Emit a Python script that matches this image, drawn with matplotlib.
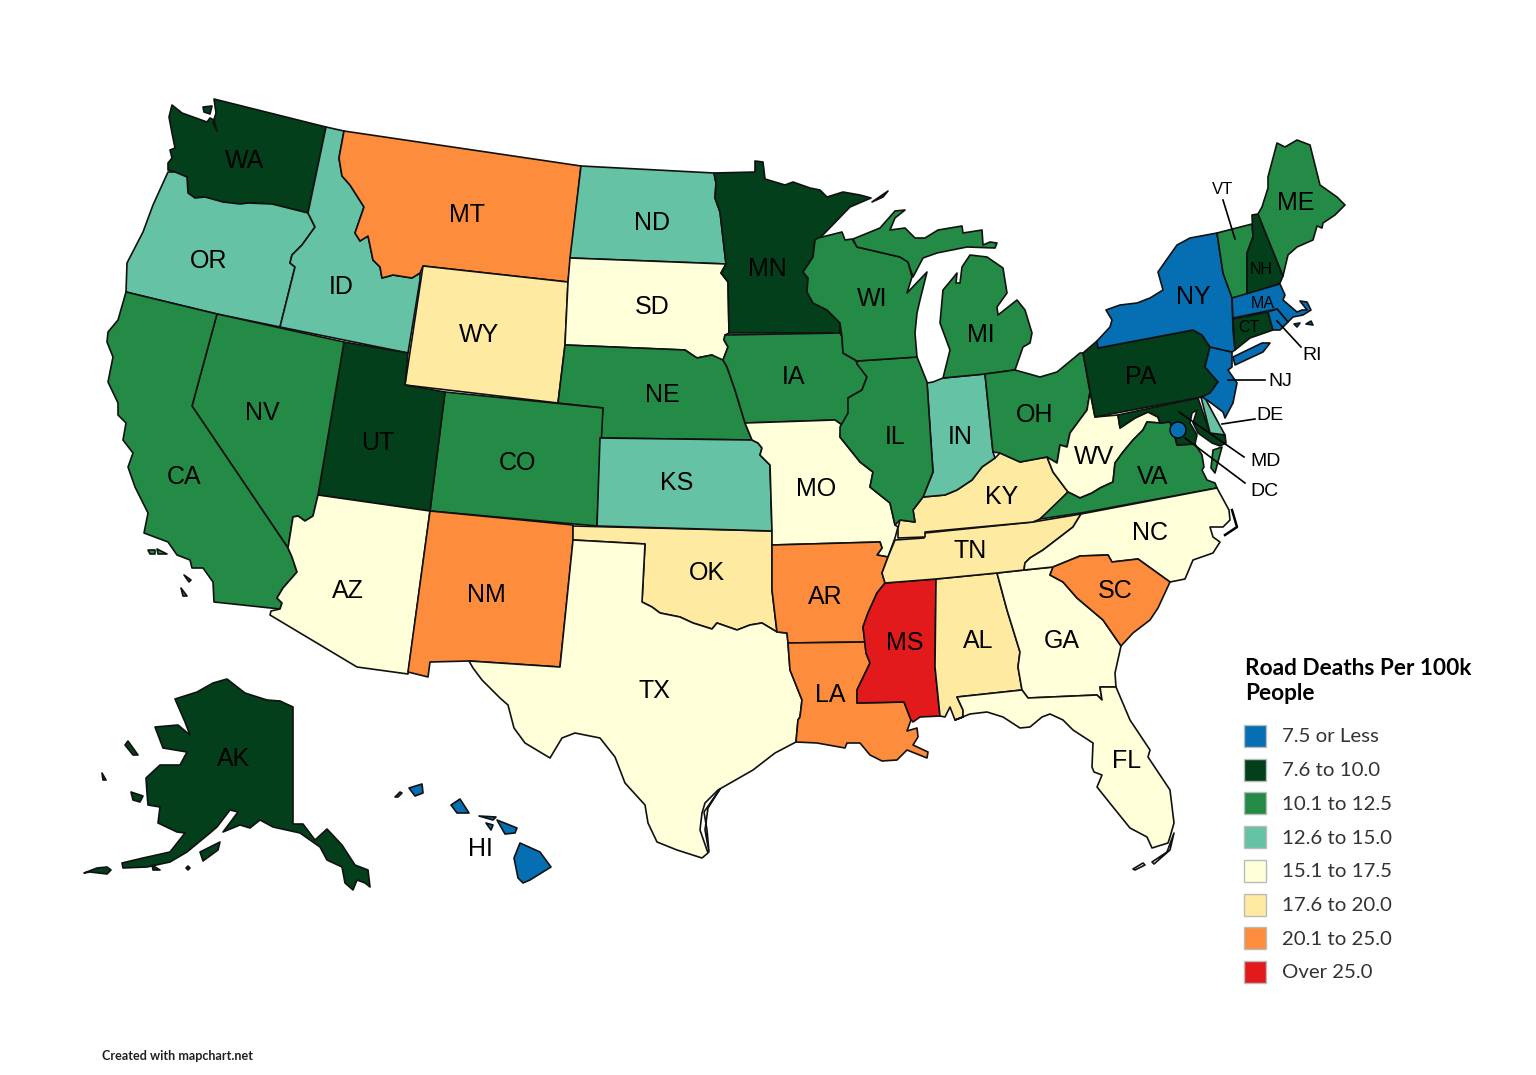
import matplotlib
matplotlib.use("Agg")
import matplotlib.pyplot as plt
from matplotlib.patches import Polygon, Rectangle, Circle

# legend classes
legend_title = "Road Deaths Per 100k\nPeople"
legend_labels = ["7.5 or Less", "7.6 to 10.0", "10.1 to 12.5", "12.6 to 15.0",
                 "15.1 to 17.5", "17.6 to 20.0", "20.1 to 25.0", "Over 25.0"]
colors = ["#066fb3", "#023f1a", "#238b45", "#66c2a4",
          "#ffffd9", "#feeaa0", "#fd8d3c", "#e31a1c"]

# class index per state
state_class = {
    "AK": 1, "AL": 5, "AR": 6, "AZ": 4, "CA": 2, "CO": 2, "CT": 1, "DE": 3, "FL": 4, "GA": 4,
    "HI": 0, "IA": 2, "ID": 3, "IL": 2, "IN": 3, "KS": 3, "KY": 5, "LA": 6, "MA": 0, "MD": 1,
    "ME": 2, "MI": 2, "MN": 1, "MO": 4, "MS": 7, "MT": 6, "NC": 4, "ND": 3, "NE": 2, "NH": 1,
    "NJ": 0, "NM": 6, "NV": 2, "NY": 0, "OH": 2, "OK": 5, "OR": 3, "PA": 1, "RI": 0, "SC": 6,
    "SD": 4, "TN": 5, "TX": 4, "UT": 1, "VA": 2, "VT": 2, "WA": 1, "WI": 2, "WV": 4, "WY": 5,
}
dc_class = 0

# outlines, in image pixels
outlines = {
    "WA": [[(169,117),(172,105),(182,113),(207,122),(210,118),(214,120),(217,131),(213,123),(216,113),(214,99),(326,127),(308,213),(272,204),(248,203),(240,204),(223,202),(205,197),(195,198),(188,193),(187,177),(175,172),(168,170),(168,163),(172,158),(170,150),(175,148),(172,133)],
           [(203,107),(212,106),(210,114),(204,112)]],
    "OR": [[(127,263),(143,232),(153,205),(168,172),(175,172),(187,177),(188,193),(195,198),(205,197),(223,202),(240,204),(248,203),(272,204),(308,213),(315,227),(302,245),(292,255),(290,263),(295,267),(280,327),(217,314),(126,292)]],
    "ID": [[(326,127),(344,131),(339,158),(342,176),(350,185),(364,207),(355,233),(360,241),(368,236),(373,260),(380,267),(382,278),(393,275),(412,278),(420,273),(420,280),(408,353),(280,327),(295,267),(290,263),(292,255),(302,245),(315,227),(308,213)]],
    "MT": [[(344,131),(581,166),(568,282),(423,266),(420,273),(412,278),(393,275),(382,278),(380,267),(373,260),(368,236),(360,241),(355,233),(364,207),(350,185),(342,176),(339,158)]],
    "WY": [[(423,266),(568,282),(565,345),(558,403),(405,385)]],
    "ND": [[(581,166),(714,173),(716,183),(715,198),(720,212),(726,264),(570,258)]],
    "SD": [[(570,258),(726,264),(721,273),(728,282),(729,333),(725,335),(724,340),(728,347),(723,360),(727,367),(712,355),(697,358),(685,350),(565,345),(568,282)]],
    "NE": [[(565,345),(685,350),(697,358),(712,355),(723,360),(727,367),(735,390),(745,423),(752,440),(600,438),(603,408),(558,403)]],
    "CO": [[(445,392),(603,408),(597,526),(430,511)]],
    "UT": [[(344,342),(408,353),(405,385),(445,392),(430,511),(318,495)]],
    "NV": [[(217,314),(344,342),(318,495),(313,516),(305,521),(298,516),(293,517),(288,548),(192,406)]],
    "CA": [[(126,292),(217,314),(192,406),(288,548),(292,557),(297,572),(283,588),(277,598),(282,603),(280,609),(214,602),(213,582),(203,568),(192,568),(190,560),(177,555),(168,542),(144,533),(148,513),(135,487),(128,467),(133,453),(123,440),(126,423),(118,415),(118,403),(108,382),(113,357),(107,342),(108,332),(118,320)],
           [(148,550),(155,550),(155,554),(150,554)], [(157,549),(167,554),(158,554)], [(184,575),(191,580),(189,582)], [(181,588),(187,596),(183,596)]],
    "AZ": [[(293,517),(298,516),(305,521),(313,516),(318,495),(430,511),(408,674),(357,667),(270,615),(271,611),(280,609),(282,603),(277,598),(283,588),(297,572),(292,557),(288,548)]],
    "NM": [[(430,511),(573,525),(573,541),(560,667),(469,661),(430,662),(428,677),(408,672)]],
    "OK": [[(573,526),(772,531),(772,590),(777,632),(762,623),(750,625),(737,630),(717,623),(712,629),(693,623),(680,617),(660,613),(652,607),(642,602),(645,544),(573,540)]],
    "KS": [[(600,438),(752,440),(758,443),(762,448),(760,455),(770,465),(772,531),(597,526)]],
    "TX": [[(573,540),(645,544),(642,602),(652,607),(660,613),(680,617),(693,623),(712,629),(717,623),(737,630),(750,625),(762,623),(777,632),(787,633),(788,643),(790,670),(802,700),(800,717),(798,720),(796,742),(775,753),(753,770),(718,790),(705,803),(702,813),(700,830),(708,853),(702,858),(677,850),(657,842),(648,823),(645,805),(625,783),(615,757),(600,738),(575,733),(562,738),(550,758),(525,743),(514,728),(508,705),(500,698),(482,680),(473,668),(469,661),(560,667)],
           [(720,789),(708,808),(705,830),(709,852),(707,830),(704,812)]],
    "MN": [[(714,173),(755,172),(755,161),(763,162),(765,179),(775,182),(785,185),(793,182),(810,188),(820,190),(827,197),(843,192),(860,195),(871,198),(850,207),(820,238),(815,240),(813,257),(803,272),(808,278),(807,292),(813,303),(827,310),(840,323),(840,333),(729,333),(728,282),(721,273),(726,264),(720,212),(715,198),(716,183)],
           [(872,202),(888,191),(883,197)]],
    "IA": [[(725,335),(840,333),(842,337),(843,353),(855,360),(867,377),(862,390),(848,398),(850,410),(842,425),(835,420),(745,423),(735,390),(727,367),(723,360),(728,347),(724,340)]],
    "MO": [[(745,423),(835,420),(842,425),(840,437),(860,462),(873,472),(870,487),(890,503),(895,525),(898,527),(895,538),(888,557),(877,555),(882,548),(880,542),(772,545),(772,531),(770,465),(760,455),(762,448),(758,443),(752,440)]],
    "AR": [[(772,545),(880,542),(882,548),(877,555),(888,557),(882,573),(885,583),(877,593),(868,613),(863,627),(865,642),(788,643),(787,633),(777,632),(772,590)]],
    "LA": [[(788,643),(865,642),(866,653),(870,663),(857,690),(857,703),(904,702),(911,720),(907,731),(917,728),(918,737),(913,745),(928,752),(927,758),(907,750),(897,760),(882,761),(870,755),(860,743),(847,743),(845,748),(817,743),(796,742),(798,720),(800,717),(802,700),(790,670)]],
    "MS": [[(885,583),(936,579),(935,667),(940,716),(920,717),(913,722),(911,720),(904,702),(857,703),(857,690),(870,663),(866,653),(863,627),(868,613),(877,593)]],
    "AL": [[(936,579),(997,573),(1007,610),(1020,652),(1018,667),(1022,690),(957,697),(963,710),(963,717),(955,720),(950,707),(945,717),(940,716),(935,667)]],
    "GA": [[(997,573),(1053,567),(1050,575),(1063,582),(1077,598),(1103,620),(1121,646),(1115,673),(1116,687),(1100,687),(1102,700),(1097,695),(1028,698),(1022,690),(1018,667),(1020,652),(1007,610)]],
    "FL": [[(957,697),(1022,690),(1028,698),(1097,695),(1102,700),(1100,687),(1116,687),(1130,720),(1150,750),(1148,757),(1170,790),(1174,823),(1170,837),(1168,843),(1152,848),(1147,837),(1130,828),(1113,807),(1097,787),(1102,775),(1094,772),(1092,767),(1093,743),(1073,730),(1063,720),(1050,714),(1042,717),(1030,727),(1020,728),(1003,717),(987,712),(970,714),(955,720),(963,717),(963,710)],
           [(1133,869),(1143,863),(1145,865),(1135,870)], [(1152,862),(1167,852),(1174,833),(1170,850),(1154,864)]],
    "TN": [[(895,540),(924,538),(925,533),(1033,522),(1081,514),(1073,527),(1060,537),(1043,550),(1030,558),(1025,563),(1024,570),(997,573),(936,579),(885,583),(882,573),(888,557)]],
    "KY": [[(898,538),(925,537),(925,532),(1033,522),(1040,519),(1053,508),(1068,492),(1053,472),(1047,457),(1020,462),(1000,453),(995,458),(982,467),(972,480),(957,490),(945,495),(923,497),(913,510),(915,522),(900,520),(898,528)]],
    "IN": [[(927,383),(933,382),(943,378),(985,374),(993,452),(995,458),(982,467),(972,480),(957,490),(945,495),(923,497),(933,472),(931,443)]],
    "IL": [[(857,361),(917,357),(927,382),(931,443),(933,472),(923,497),(913,510),(915,522),(900,520),(895,525),(890,503),(870,487),(873,472),(860,462),(840,437),(840,427),(848,413),(848,398),(862,390),(867,377),(857,364)]],
    "WI": [[(818,238),(842,232),(845,240),(852,239),(857,247),(900,257),(908,262),(912,277),(907,293),(927,272),(920,300),(917,313),(915,333),(917,357),(857,361),(843,353),(842,337),(840,323),(827,310),(813,303),(807,292),(808,278),(803,272),(813,257),(815,240)]],
    "MI": [[(853,239),(880,228),(895,211),(905,210),(895,218),(890,230),(905,228),(915,238),(925,238),(938,230),(962,226),(963,233),(982,230),(983,245),(990,242),(997,243),(995,248),(967,247),(937,253),(923,258),(913,277),(908,262),(900,257),(857,247)],
           [(943,378),(950,350),(940,323),(943,290),(953,278),(957,273),(956,283),(960,283),(962,267),(970,255),(987,257),(1003,268),(1007,293),(997,307),(998,315),(1017,300),(1025,310),(1032,333),(1030,343),(1023,347),(1015,370),(985,374)]],
    "OH": [[(985,374),(1015,370),(1040,377),(1057,372),(1080,353),(1083,353),(1090,392),(1087,410),(1070,433),(1067,447),(1060,445),(1057,463),(1047,457),(1020,462),(1000,453),(993,452)]],
    "WV": [[(1090,392),(1095,417),(1118,415),(1120,428),(1135,418),(1148,412),(1158,417),(1160,423),(1147,422),(1143,430),(1133,440),(1123,452),(1115,463),(1113,482),(1100,488),(1092,493),(1080,498),(1068,492),(1053,472),(1047,457),(1057,463),(1060,445),(1067,447),(1070,433),(1087,410)]],
    "PA": [[(1083,353),(1097,341),(1098,348),(1193,330),(1202,335),(1210,347),(1205,367),(1218,382),(1210,393),(1202,397),(1095,417)]],
    "VA": [[(1040,519),(1068,492),(1080,498),(1092,493),(1100,488),(1113,482),(1115,463),(1123,452),(1133,440),(1143,430),(1147,422),(1160,423),(1170,422),(1175,437),(1177,445),(1195,444),(1202,455),(1204,467),(1202,470),(1207,480),(1215,483),(1217,488),(1081,513)],
           [(1222,447),(1215,473),(1211,468),(1213,450)]],
    "MD": [[(1118,415),(1198,398),(1210,433),(1225,435),(1226,443),(1220,446),(1212,443),(1198,433),(1193,423),(1197,410),(1192,413),(1190,423),(1197,435),(1195,444),(1177,445),(1175,437),(1170,422),(1160,423),(1158,417),(1148,412),(1135,418),(1120,428)]],
    "DE": [[(1201,397),(1204,396),(1213,413),(1225,435),(1210,433)]],
    "NJ": [[(1210,347),(1232,352),(1232,367),(1228,370),(1237,383),(1233,403),(1225,418),(1223,412),(1207,400),(1202,397),(1210,393),(1218,382),(1205,367)]],
    "NY": [[(1098,348),(1097,341),(1110,327),(1112,320),(1106,310),(1120,305),(1137,303),(1150,298),(1163,290),(1158,272),(1165,262),(1177,245),(1190,238),(1217,233),(1223,273),(1232,297),(1233,330),(1235,350),(1232,352),(1210,347),(1202,335),(1193,330)],
           [(1233,357),(1262,343),(1270,343),(1263,352),(1235,365)]],
    "VT": [[(1217,233),(1252,224),(1253,237),(1247,253),(1247,295),(1232,298),(1223,273)]],
    "NH": [[(1252,215),(1258,214),(1283,276),(1280,283),(1247,295),(1247,253),(1253,237)]],
    "ME": [[(1258,214),(1262,207),(1268,188),(1268,177),(1277,143),(1285,147),(1297,140),(1310,145),(1320,185),(1337,197),(1345,205),(1335,215),(1323,223),(1322,228),(1317,226),(1313,240),(1297,247),(1288,255),(1283,276)]],
    "MA": [[(1232,298),(1280,284),(1285,295),(1283,300),(1297,312),(1302,310),(1307,310),(1300,301),(1307,302),(1311,310),(1303,315),(1293,317),(1288,322),(1277,309),(1233,318)],
           [(1294,324),(1300,323),(1297,327)], [(1306,324),(1311,321),(1313,325)]],
    "CT": [[(1233,319),(1268,312),(1273,330),(1250,338),(1235,350)]],
    "RI": [[(1268,312),(1277,309),(1288,322),(1280,330),(1273,330)]],
    "AK": [[(175,699),(197,692),(213,683),(227,679),(245,693),(267,700),(280,701),(293,707),(293,824),(303,824),(315,840),(327,829),(342,845),(355,865),(368,870),(370,887),(365,883),(357,880),(353,890),(345,883),(342,867),(327,860),(320,847),(300,833),(273,827),(260,820),(250,828),(240,825),(223,832),(238,812),(230,810),(217,827),(210,833),(187,852),(170,862),(147,867),(123,868),(122,863),(143,858),(170,852),(185,833),(177,832),(158,823),(160,807),(148,805),(147,793),(146,778),(160,765),(180,765),(187,752),(163,748),(155,727),(178,725),(190,735),(185,722)],
           [(125,745),(128,741),(138,755),(133,755)], [(102,773),(106,780),(103,780)], [(131,792),(143,796),(140,802),(133,800)],
           [(84,873),(97,868),(107,867),(111,870),(107,874),(90,872)], [(200,852),(220,842),(218,850),(203,861)],
           [(152,865),(160,870),(153,870)], [(188,866),(190,868),(188,870),(186,868)]],
    "HI": [[(520,843),(540,852),(551,867),(530,880),(523,883),(518,878),(514,858)], [(497,820),(517,828),(515,833),(505,834)],
           [(486,823),(493,825),(491,830)], [(479,816),(496,817),(493,820)], [(451,805),(460,799),(469,813),(457,813)],
           [(409,788),(422,784),(423,793),(415,796)], [(395,797),(400,792),(402,793),(398,797)]],
    "NC": [[(1024,570),(1025,563),(1030,558),(1043,550),(1060,537),(1073,527),(1081,514),(1217,488),(1229,510),(1230,520),(1223,527),(1210,527),(1213,537),(1220,542),(1213,553),(1193,560),(1185,579),(1170,582),(1138,559),(1112,562),(1108,555),(1080,556),(1053,567)]],
    "SC": [[(1053,567),(1080,556),(1108,555),(1112,562),(1138,559),(1170,582),(1158,608),(1150,620),(1133,633),(1121,646),(1103,620),(1077,598),(1063,582),(1050,575)]],
}
outer_banks_x = [1232, 1237, 1225]
outer_banks_y = [510, 527, 535]

# state code labels with their pixel positions
map_labels = {
    "WA": (245,159), "OR": (209,259), "CA": (184,475), "NV": (262,412), "ID": (341,285), "MT": (467,214),
    "WY": (479,333), "UT": (378,442), "AZ": (348,589), "CO": (517,461), "NM": (486,594), "ND": (652,221),
    "SD": (652,305), "NE": (662,393), "KS": (677,481), "OK": (707,572), "TX": (654,690), "MN": (767,267),
    "IA": (793,376), "MO": (816,487), "AR": (825,595), "LA": (830,694), "WI": (872,298), "IL": (895,436),
    "MS": (905,642), "MI": (981,333), "IN": (960,435), "KY": (1002,496), "TN": (970,550), "AL": (978,639),
    "OH": (1035,413), "GA": (1062,639), "FL": (1127,759), "SC": (1115,590), "NC": (1150,531), "WV": (1094,456),
    "VA": (1153,475), "PA": (1141,375), "NY": (1193,296), "ME": (1296,202), "AK": (234,758), "HI": (480,848),
}
small_labels = {"NH": (1261,269), "MA": (1263,302), "CT": (1249,327)}
side_labels = {"VT": (1223,189), "RI": (1312,355), "NJ": (1280,380), "DE": (1270,415), "MD": (1266,460), "DC": (1264,491)}
leader_x = [(1223,1235), (1277,1301), (1228,1265), (1222,1255), (1179,1244), (1185,1245)]
leader_y = [(200,239), (321,347), (380,380), (424,419), (412,457), (438,483)]

plt.rcParams['font.family'] = ['Liberation Sans', 'DejaVu Sans']

fig = plt.figure(figsize=(15.36, 10.75), dpi=100)
ax = fig.add_axes([0, 0, 1, 1])
ax.set_xlim(0, 1536)
ax.set_ylim(1075, 0)
ax.axis("off")

for state, parts in outlines.items():
    for part in parts:
        ax.add_patch(Polygon(part, closed=True, facecolor=colors[state_class[state]],
                             edgecolor="#111111", linewidth=1.2, joinstyle="round"))

ax.plot(outer_banks_x, outer_banks_y, color="black", linewidth=1.8, zorder=3)
for x, y in zip(leader_x, leader_y):
    ax.plot(x, y, color="black", linewidth=1.2, zorder=3)
ax.add_patch(Circle((1178, 430), 8, facecolor=colors[dc_class], edgecolor="black", linewidth=1.0, zorder=4))

for code, (x, y) in map_labels.items():
    ax.text(x, y + 1.5, code, fontsize=18, ha="center", va="center", color="black", zorder=5)
for code, (x, y) in small_labels.items():
    ax.text(x, y + 1, code, fontsize=11.5, ha="center", va="center", color="black", zorder=5)
for code, (x, y) in side_labels.items():
    size = 12 if code == "VT" else 14
    ax.text(x, y + 1, code, fontsize=size, ha="center", va="center", color="black", zorder=5)

# legend
ax.text(1245, 681, legend_title, fontsize=16.3, fontweight="bold", family=["Lato", "DejaVu Sans"],
        ha="left", va="center", linespacing=1.2, color="black")
for i, (label, col) in enumerate(zip(legend_labels, colors)):
    yc = 736 + i * 33.7
    ax.add_patch(Rectangle((1244, yc - 11), 22, 22, facecolor=col, edgecolor="#bbbbbb", linewidth=1))
    ax.text(1282, yc + 1, label, fontsize=14.7, family=["Lato", "DejaVu Sans"], ha="left", va="center", color="#333333")

ax.text(102, 1056, "Created with mapchart.net", fontsize=9.1, fontweight="bold",
        family=["Lato", "DejaVu Sans"], ha="left", va="center", color="#222222")

fig.savefig("out.png", dpi=100)
